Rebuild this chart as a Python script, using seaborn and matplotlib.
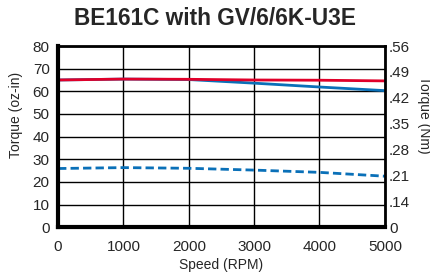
import matplotlib
matplotlib.use('Agg')
import matplotlib.pyplot as plt
import seaborn as sns
import pandas as pd

speed = [0, 1000, 2000, 3000, 4000, 5000]
red_torque = [65.0, 65.4, 65.3, 65.0, 64.9, 64.6]
blue_torque = [65.0, 65.4, 65.2, 63.6, 61.9, 60.3]
blue_dashed = [25.9, 26.3, 26.0, 25.2, 24.2, 22.5]

# right axis labels are evenly spaced over the full height
right_labels = ['0', '.14', '.21', '.28', '.35', '.42', '.49', '.56']

df = pd.DataFrame({'speed': speed, 'red': red_torque,
                   'blue': blue_torque, 'dashed': blue_dashed})

sns.set_style('white')
plt.rcParams['font.family'] = ['Liberation Sans', 'DejaVu Sans']

fig = plt.figure(figsize=(4.3, 2.74), dpi=100)
ax = fig.add_axes([0.135, 0.171, 0.76, 0.661])

sns.lineplot(data=df, x='speed', y='blue', color='#0a70b8', lw=2, ax=ax)
sns.lineplot(data=df, x='speed', y='dashed', color='#0a70b8', lw=2,
             linestyle=(0, (3, 1.5)), ax=ax)
sns.lineplot(data=df, x='speed', y='red', color='#e0002a', lw=2, ax=ax)

ax.set_xlim(0, 5000)
ax.set_ylim(0, 80)
ax.set_xticks(range(0, 5001, 1000))
ax.set_yticks(range(0, 81, 10))
ax.grid(True, color='black', lw=1)
ax.set_axisbelow(True)
for side in ['left', 'bottom']:
    ax.spines[side].set_linewidth(3)
for side in ['top', 'right']:
    ax.spines[side].set_linewidth(2)
for s in ax.spines.values():
    s.set_color('black')
ax.tick_params(labelsize=11, length=0)
ax.tick_params(axis='x', pad=9)
ax.tick_params(axis='y', pad=6)
ax.set_xlabel('Speed (RPM)', fontsize=10, labelpad=3)
ax.set_ylabel('Torque (oz-in)', fontsize=10)
ax.yaxis.set_label_coords(-0.106, 0.62)
fig.suptitle('BE161C with GV/6/6K-U3E', fontsize=16.3, fontweight='bold',
             x=0.5, y=0.975, va='top')

ax2 = ax.twinx()
ax2.set_ylim(0, len(right_labels) - 1)
ax2.set_yticks(range(len(right_labels)))
ax2.set_yticklabels(right_labels)
ax2.tick_params(labelsize=11, length=0, pad=3)
ax2.set_ylabel('Torque (Nm)', fontsize=10, rotation=270, va='center')
ax2.yaxis.set_label_coords(1.12, 0.62)
for s in ax2.spines.values():
    s.set_visible(False)

fig.savefig('out.png', dpi=100)
